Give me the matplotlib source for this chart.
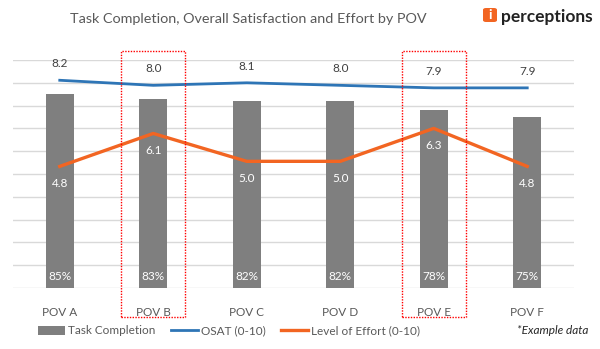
import matplotlib
matplotlib.use("Agg")
import matplotlib.pyplot as plt
from matplotlib.patches import Rectangle, FancyBboxPatch
from matplotlib.lines import Line2D
from matplotlib.patches import Patch
import numpy as np

categories = ["POV A", "POV B", "POV C", "POV D", "POV E", "POV F"]
task_completion = [85, 83, 82, 82, 78, 75]
osat = [8.2, 8.0, 8.1, 8.0, 7.9, 7.9]
effort = [4.8, 6.1, 5.0, 5.0, 6.3, 4.8]
highlighted = ["POV B", "POV E"]

plt.rcParams['font.family'] = ['Lato', 'DejaVu Sans']

BAR = '#7f7f7f'
BLUE = '#2e75b6'
ORANGE = '#f26522'
TXT = '#595959'

fig = plt.figure(figsize=(6.0, 3.49), dpi=100)
ax = fig.add_axes([13/600, 1-288/349, 561/600, 228/349])
x = np.arange(len(categories))
ax.bar(x, task_completion, width=0.3, color=BAR, zorder=2)
ax.set_ylim(0, 100)
ax.set_xlim(-0.5, len(categories)-0.5)
ax.set_yticks(np.arange(0, 101, 10))
ax.yaxis.grid(True, color='#d9d9d9', linewidth=1.0, zorder=0)
ax.set_axisbelow(True)
ax.set_xticks(x)
ax.set_xticklabels(categories)
for s in ax.spines.values():
    s.set_visible(False)
for xi, v in zip(x, task_completion):
    ax.text(xi, 5.0, f"{v}%", ha='center', va='center', color='white', fontsize=8.5, zorder=5)

ax2 = ax.twinx()
ax2.set_ylim(0, 9)
ax2.set_axis_off()
ax.tick_params(axis='y', left=False, right=False, labelleft=False, length=0)
ax.tick_params(axis='x', bottom=False, labelsize=8.5, colors=TXT, pad=10)
ax2.plot(x, osat, color=BLUE, linewidth=2.0, zorder=3)
ax2.plot(x, effort, color=ORANGE, linewidth=2.4, zorder=3)
for xi, v in zip(x, osat):
    ax2.annotate(f"{v:.1f}", (xi, v), xytext=(0, 12), textcoords='offset points',
                 ha='center', va='center', color='#404040', fontsize=8.5)
for xi, v in zip(x, effort):
    ax2.annotate(f"{v:.1f}", (xi, v), xytext=(0, -12), textcoords='offset points',
                 ha='center', va='center', color='white', fontsize=8.5)

# highlight boxes
for c in highlighted:
    i = categories.index(c)
    x0 = ax.transData.transform((i, 0))[0]
    left = (x0 - 32) / 600
    r = Rectangle((left, 1-317/349), 64/600, 266/349, transform=fig.transFigure,
                  fill=False, edgecolor='#ff0000', linestyle=(0, (1, 1)), linewidth=1.0, zorder=10)
    fig.patches.append(r)

fig.text(248/600, 1-19/349, "Task Completion, Overall Satisfaction and Effort by POV",
         ha='center', va='center', fontsize=10.4, color=TXT)

# logo
logo = FancyBboxPatch((483/600, 1-22/349), 14/600, 14/349, boxstyle="round,pad=0,rounding_size=0.005",
                      transform=fig.transFigure, facecolor='#f26522', edgecolor='none')
fig.patches.append(logo)
fig.text(490/600, 1-15/349, "i", ha='center', va='center', fontsize=10, color='white', fontweight='bold')
fig.text(501/600, 1-17/349, "perceptions", ha='left', va='center', fontsize=12.5, color='#222222', fontweight='bold')

handles = [Patch(facecolor=BAR, edgecolor='none'),
           Line2D([0], [0], color=BLUE, linewidth=2.0),
           Line2D([0], [0], color=ORANGE, linewidth=2.4)]
labels = ["Task Completion", "OSAT (0-10)", "Level of Effort (0-10)"]
fig.legend(handles, labels, loc='center left', bbox_to_anchor=(38/600, 1-331/349), ncol=3,
           frameon=False, fontsize=8.5, labelcolor=TXT, handlelength=2.3, handletextpad=0.25,
           columnspacing=1.3, borderaxespad=0, borderpad=0)
fig.text(588/600, 1-330/349, "*Example data", ha='right', va='center', fontsize=8.5,
         style='italic', color='#262626')

fig.savefig("out.png", dpi=100)
